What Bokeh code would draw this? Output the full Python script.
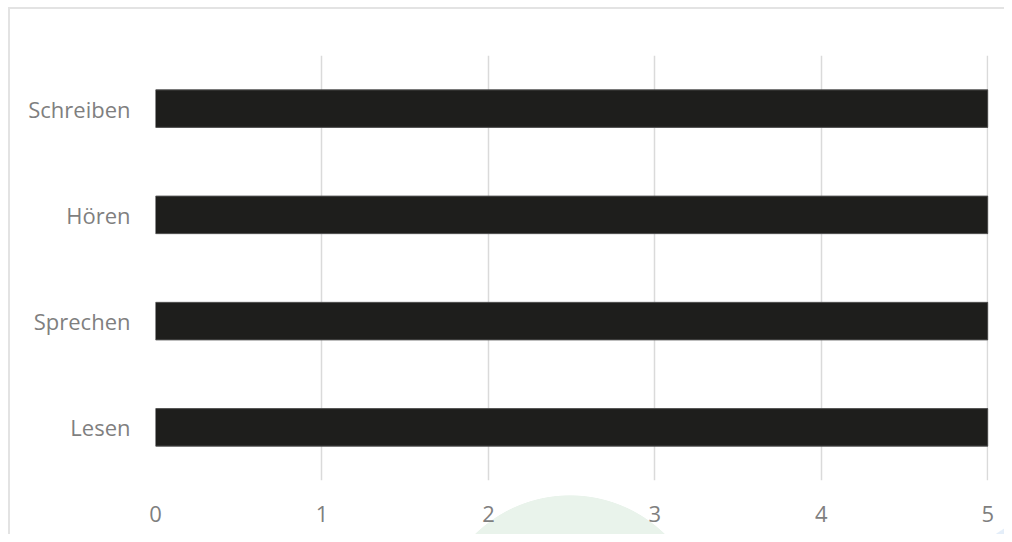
from bokeh.plotting import figure
from bokeh.models import FactorRange, Range1d, FixedTicker
from bokeh.embed import file_html
from bokeh.resources import INLINE

categories = ["Lesen", "Sprechen", "Hören", "Schreiben"]
values = [5, 5, 5, 5]
x_ticks = [0, 1, 2, 3, 4, 5]

p = figure(
    width=1004, height=534,
    y_range=FactorRange(*categories, range_padding=0),
    x_range=Range1d(0, 5.004),
    output_backend="svg", toolbar_location=None,
    min_border_left=155, min_border_right=16, min_border_top=55, min_border_bottom=54,
)
p.hbar(y=categories, right=values, left=0, height=0.353,
       fill_color="#1e1e1c", line_color="#505050", line_width=1)

p.background_fill_color = None
p.border_fill_color = None
p.outline_line_color = None
p.styles = {
    "background": ("linear-gradient(#e3e3e3, #e3e3e3) 8px 7px / 100% 2px no-repeat, "
                   "linear-gradient(#e3e3e3, #e3e3e3) 8px 7px / 2px 100% no-repeat, "
                   "radial-gradient(circle 136px at 570px 631px, #e9f3eb 99.5%, rgba(255,255,255,0) 100%), "
                   "radial-gradient(circle 202px at 1110px 700px, #e4eef9 99.5%, rgba(255,255,255,0) 100%), "
                   "#ffffff"),
}

p.ygrid.grid_line_color = None
p.xgrid.grid_line_color = "#dadada"
p.xgrid.grid_line_width = 1.5
p.xaxis.ticker = FixedTicker(ticks=x_ticks)

for ax in (p.xaxis[0], p.yaxis[0]):
    ax.axis_line_color = None
    ax.major_tick_line_color = None
    ax.minor_tick_line_color = None
    ax.major_tick_out = 0
    ax.major_label_text_font = "Open Sans"
    ax.major_label_text_font_size = "22px"
    ax.major_label_text_color = "#7f7f7f"

p.yaxis.major_label_standoff = 25
p.xaxis.major_label_standoff = 25

open("out.html", "w").write(file_html(p, INLINE))
